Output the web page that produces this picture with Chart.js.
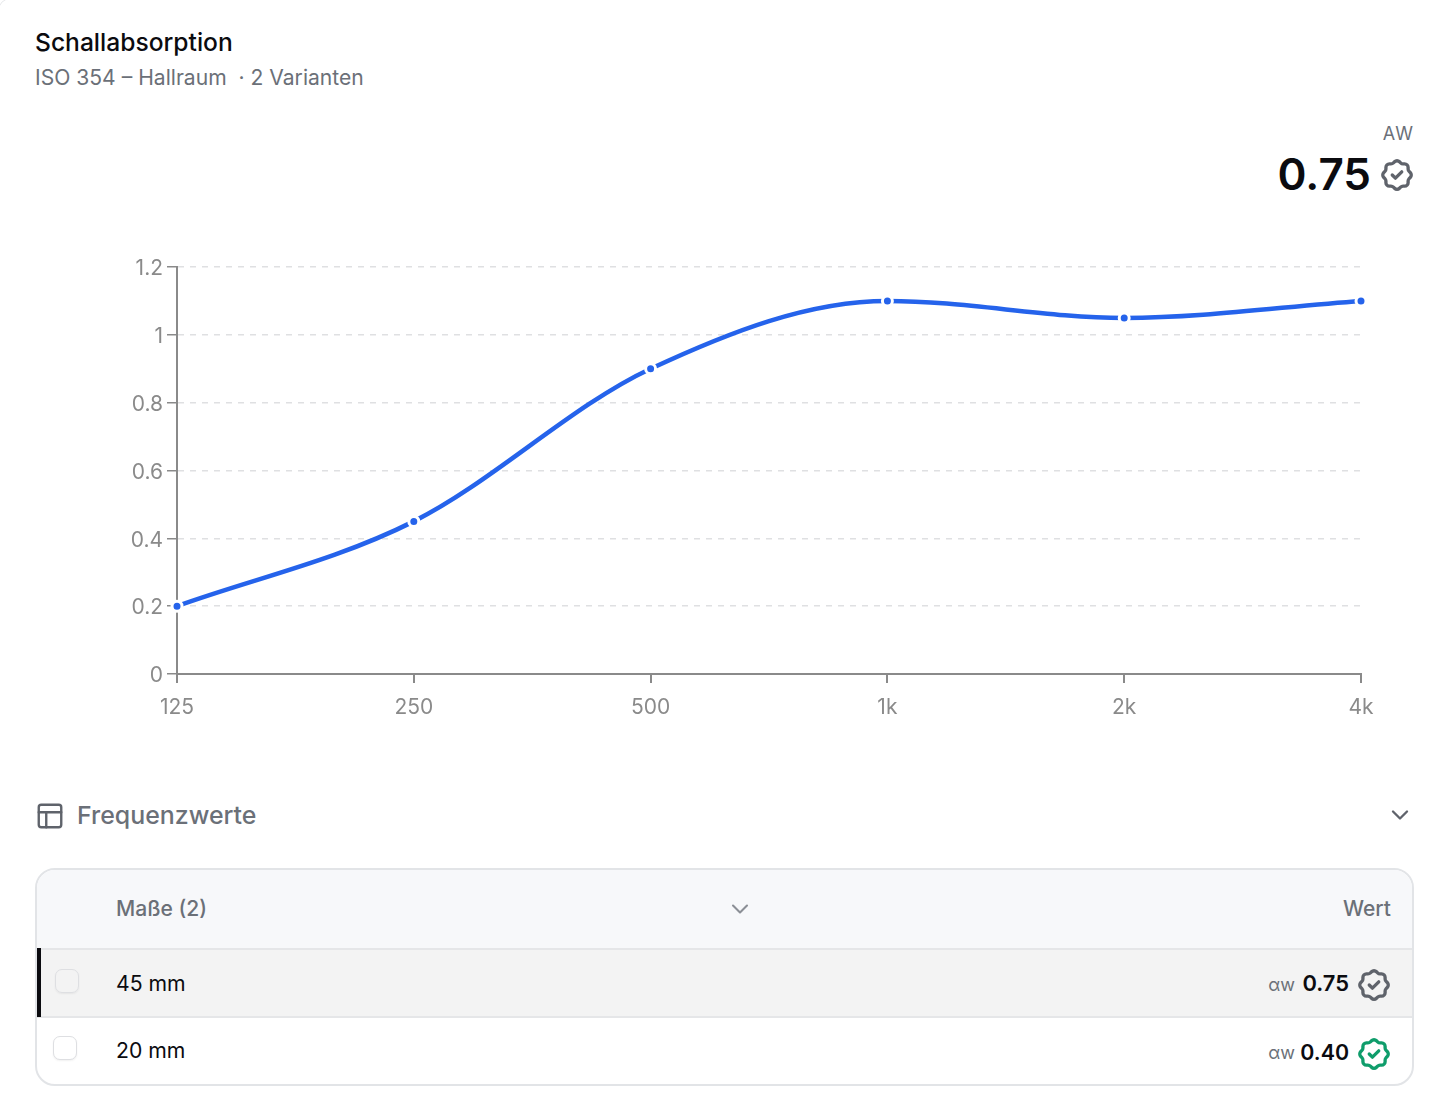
<!DOCTYPE html>
<html lang="de">
<head>
<meta charset="utf-8">
<title>Schallabsorption</title>
<script src="https://cdn.jsdelivr.net/npm/chart.js@4"></script>
<style>
  html, body { margin: 0; padding: 0; background: #fff; }
  body { position: relative; width: 1440px; height: 1102px; overflow: hidden; font-family: Inter, sans-serif; color: #0b0b0f; }
  .abs { position: absolute; white-space: nowrap; }
  .card { position: absolute; left: -3px; top: -3px; width: 1600px; height: 1300px; border: 1px solid #e7e8ea; border-radius: 16px; }
  #chartWrap { position: absolute; left: 100px; top: 250px; width: 1300px; height: 480px; }
  .table { position: absolute; left: 35px; top: 868px; width: 1375px; height: 214px; border: 2px solid #e2e4e7; border-radius: 20px; overflow: hidden; background: #fff; }
  .head { position: absolute; left: 0; top: 0; width: 100%; height: 78px; background: #f7f8fa; border-bottom: 2px solid #e5e6e8; }
  .row1 { position: absolute; left: 0; top: 80px; width: 100%; height: 66px; background: #f3f3f3; border-bottom: 2px solid #e5e6e8; }
  .bar { position: absolute; left: 0; top: 78px; width: 4px; height: 69px; background: #0b0b0f; }
  .check { position: absolute; width: 22px; height: 22px; border: 1.5px solid #dedfe2; border-radius: 7px; background: transparent; box-shadow: 0 1px 2px rgba(0,0,0,.06); }
  svg { position: absolute; fill: none; stroke-linecap: round; stroke-linejoin: round; }
</style>
</head>
<body>
<div class="card"></div>

<div class="abs" style="left:35px;top:27px;font-size:24.6px;font-weight:500;line-height:30px;">Schallabsorption</div>
<div class="abs" style="left:35px;top:64px;font-size:21.1px;line-height:28px;color:#6b7078;">ISO 354 – Hallraum &nbsp;· 2 Varianten</div>

<div class="abs" style="right:26px;top:123px;font-size:18px;line-height:22px;letter-spacing:1px;color:#6b7078;">AW</div>
<div class="abs" style="right:69px;top:147px;font-size:44px;font-weight:600;line-height:54px;">0.75</div>
<svg style="left:1378px;top:156px" width="38" height="38" viewBox="0 0 24 24" stroke="#5f636b" stroke-width="2.1"><use href="#badge"/></svg>

<div id="chartWrap"><canvas id="absorptionChart"></canvas></div>

<svg style="left:35px;top:801px" width="30" height="30" viewBox="0 0 24 24" stroke="#5f636b" stroke-width="1.9"><rect x="3" y="3" width="18" height="18" rx="2"/><path d="M3 9h18M9 9v12"/></svg>
<div class="abs" style="left:77px;top:799px;font-size:24.9px;font-weight:500;line-height:32px;color:#6b7078;">Frequenzwerte</div>
<svg style="left:1386px;top:801px" width="28" height="28" viewBox="0 0 24 24" stroke="#5f636b" stroke-width="2"><path d="M6 9l6 6 6-6"/></svg>

<div class="table">
  <div class="head"></div>
  <div class="row1"></div>
  <div class="bar"></div>
  <div class="check" style="left:18px;top:99px;"></div>
  <div class="check" style="left:16px;top:166px;background:#fff;"></div>
</div>
<div class="abs" style="left:116px;top:895px;font-size:21.1px;font-weight:500;line-height:28px;color:#6b7078;">Maße (2)</div>
<svg style="left:726px;top:895px" width="28" height="28" viewBox="0 0 24 24" stroke="#8b8f96" stroke-width="1.8"><path d="M6 9l6 6 6-6"/></svg>
<div class="abs" style="right:49px;top:895px;font-size:21px;font-weight:500;line-height:28px;color:#6b7078;">Wert</div>

<div class="abs" style="left:116px;top:969px;font-size:21.2px;line-height:28px;">45 mm</div>
<div class="abs" style="left:116px;top:1036px;font-size:21.2px;line-height:28px;">20 mm</div>

<div class="abs" style="right:145px;top:972px;font-size:18px;line-height:26px;color:#6b7078;">αw</div>
<div class="abs" style="right:91px;top:969px;font-size:21.9px;font-weight:600;line-height:28px;">0.75</div>
<svg style="left:1355px;top:966px" width="38" height="38" viewBox="0 0 24 24" stroke="#5f636b" stroke-width="2.1"><use href="#badge"/></svg>
<div class="abs" style="right:145px;top:1040px;font-size:18px;line-height:26px;color:#6b7078;">αw</div>
<div class="abs" style="right:91px;top:1038px;font-size:21.4px;font-weight:600;line-height:28px;">0.40</div>
<svg style="left:1355px;top:1035px" width="38" height="38" viewBox="0 0 24 24" stroke="#0f9d6b" stroke-width="2.1"><use href="#badge"/></svg>

<svg width="0" height="0" style="position:absolute">
  <defs>
    <g id="badge">
      <path d="M5 7.2a2.2 2.2 0 0 1 2.2-2.2h1a2.2 2.2 0 0 0 1.55-.64l.7-.7a2.2 2.2 0 0 1 3.12 0l.7.7c.412.41.97.64 1.55.64h1a2.2 2.2 0 0 1 2.2 2.2v1c0 .58.23 1.138.64 1.55l.7.7a2.2 2.2 0 0 1 0 3.12l-.7.7a2.2 2.2 0 0 0-.64 1.55v1a2.2 2.2 0 0 1-2.2 2.2h-1a2.2 2.2 0 0 0-1.55.64l-.7.7a2.2 2.2 0 0 1-3.12 0l-.7-.7a2.2 2.2 0 0 0-1.55-.64h-1a2.2 2.2 0 0 1-2.2-2.2v-1a2.2 2.2 0 0 0-.64-1.55l-.7-.7a2.2 2.2 0 0 1 0-3.12l.7-.7a2.2 2.2 0 0 0 .64-1.55v-1"/>
      <path d="M9 12l2 2 4-4"/>
    </g>
  </defs>
</svg>

<script>
const frequencies = ["125", "250", "500", "1k", "2k", "4k"];
const absorption = [0.2, 0.45, 0.9, 1.1, 1.05, 1.1];

const axisGray = "#8a8a8a";
const tickFont = { family: "Inter", size: 21 };

// y labels sit a little low in the original, middle baseline puts them too high
const nudgeYLabels = {
  id: "nudgeYLabels",
  beforeDraw(chart) {
    chart.scales.y.getLabelItems().forEach((item) => {
      if (!item.nudged) {
        item.options.translation[1] += 2;
        item.nudged = true;
      }
    });
  },
};

new Chart(document.getElementById("absorptionChart"), {
  type: "line",
  data: {
    labels: frequencies,
    datasets: [
      {
        data: absorption,
        borderColor: "#2563eb",
        borderWidth: 4.5,
        cubicInterpolationMode: "monotone",
        pointRadius: 5,
        pointBackgroundColor: "#2563eb",
        pointBorderColor: "#fff",
        pointBorderWidth: 3,
        clip: false,
      },
    ],
  },
  plugins: [nudgeYLabels],
  options: {
    responsive: true,
    maintainAspectRatio: false,
    animation: false,
    layout: { padding: { top: 17, right: 39, bottom: 0, left: 0 } },
    plugins: { legend: { display: false }, tooltip: { enabled: false } },
    scales: {
      x: {
        offset: false,
        afterFit: (axis) => { axis.height = 56; },
        border: { color: axisGray, width: 2 },
        grid: { drawOnChartArea: false, color: axisGray, tickLength: 9, lineWidth: 2 },
        ticks: { color: axisGray, font: tickFont, padding: 12, maxRotation: 0 },
      },
      y: {
        min: 0,
        max: 1.2,
        afterFit: (axis) => { axis.width = 77; },
        border: { color: axisGray, width: 2, dash: [6, 6] },
        grid: { color: "#dfe0e2", lineWidth: 1.5, tickColor: axisGray, tickLength: 10, tickWidth: 1.5 },
        ticks: {
          stepSize: 0.2,
          color: axisGray,
          font: tickFont,
          padding: 4,
          callback: (v) => String(Math.round(v * 10) / 10),
        },
      },
    },
  },
});
</script>
</body>
</html>
